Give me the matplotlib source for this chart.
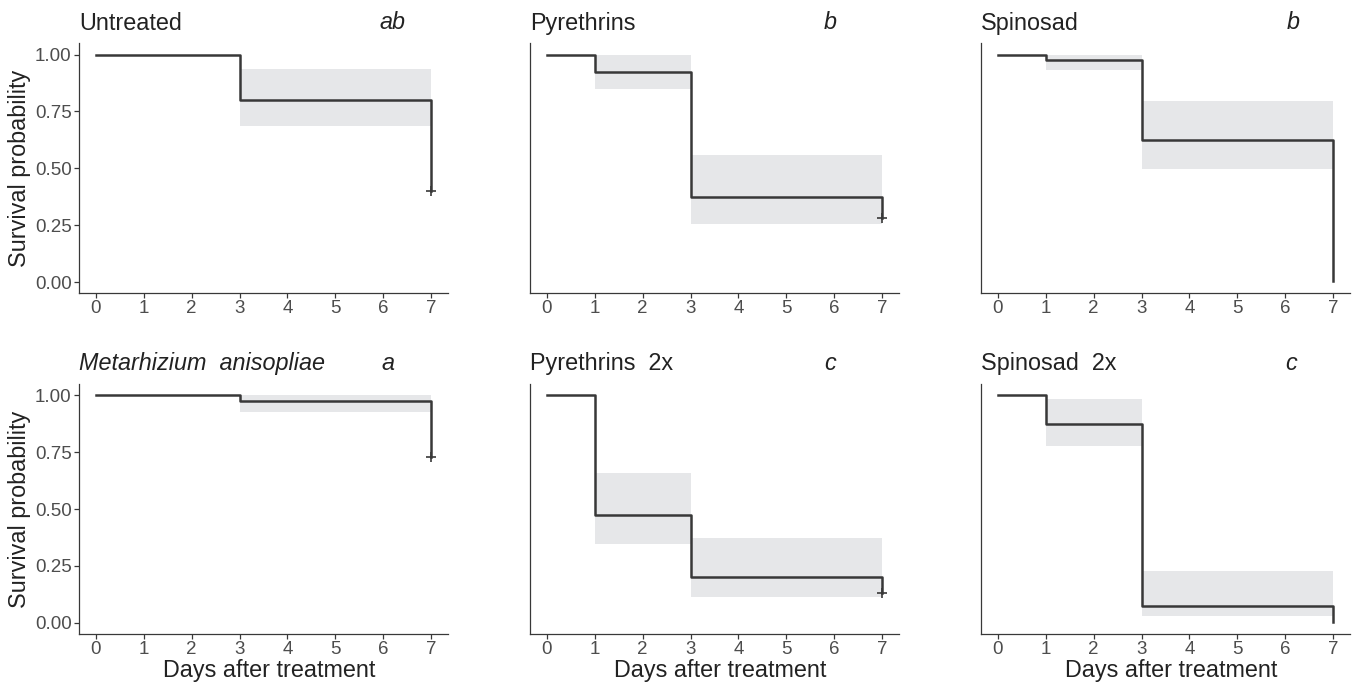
import matplotlib.pyplot as plt
import numpy as np

plt.rcParams['font.family'] = ['Liberation Sans', 'DejaVu Sans']

# survival curves (Kaplan-Meier steps)
titles = ['Untreated', 'Pyrethrins', 'Spinosad',
          'Metarhizium  anisopliae', 'Pyrethrins  2x', 'Spinosad  2x']
letters = ['ab', 'b', 'b', 'a', 'c', 'c']
italic_title = [False, False, False, True, False, False]

t_untr = [0, 3, 7]
s_untr = [1.00, 0.80, 0.40]
lo_untr = [1.00, 0.687, 0.40]
hi_untr = [1.00, 0.935, 0.40]

t_pyr = [0, 1, 3, 7]
s_pyr = [1.00, 0.925, 0.375, 0.28]
lo_pyr = [1.00, 0.849, 0.254, 0.28]
hi_pyr = [1.00, 1.00, 0.559, 0.28]

t_spi = [0, 1, 3, 7]
s_spi = [1.00, 0.975, 0.625, 0.004]
lo_spi = [1.00, 0.930, 0.495, 0.004]
hi_spi = [1.00, 1.00, 0.797, 0.004]

t_met = [0, 3, 7]
s_met = [1.00, 0.975, 0.73]
lo_met = [1.00, 0.928, 0.73]
hi_met = [1.00, 1.00, 0.73]

t_pyr2 = [0, 1, 3, 7]
s_pyr2 = [1.00, 0.475, 0.20, 0.13]
lo_pyr2 = [1.00, 0.344, 0.111, 0.13]
hi_pyr2 = [1.00, 0.659, 0.373, 0.13]

t_spi2 = [0, 1, 3, 7]
s_spi2 = [1.00, 0.875, 0.075, 0.004]
lo_spi2 = [1.00, 0.779, 0.029, 0.004]
hi_spi2 = [1.00, 0.982, 0.227, 0.004]

times = [t_untr, t_pyr, t_spi, t_met, t_pyr2, t_spi2]
surv = [s_untr, s_pyr, s_spi, s_met, s_pyr2, s_spi2]
ci_lo = [lo_untr, lo_pyr, lo_spi, lo_met, lo_pyr2, lo_spi2]
ci_hi = [hi_untr, hi_pyr, hi_spi, hi_met, hi_pyr2, hi_spi2]
censored = [True, True, False, True, True, False]

# letter x position (axes fraction)
let_x = [0.851, 0.813, 0.846, 0.837, 0.815, 0.840]

W, H = 1354, 684
fig = plt.figure(figsize=(W / 100, H / 100), dpi=100)

lefts = [79.2, 530.2, 981.2]
bottoms = [293.4, 634.1]
aw, ah = 368.6, 250.2

line_c = '#383838'
band_c = '#e6e7e9'
txt_c = '#4d4d4d'

for i in range(6):
    r, c = divmod(i, 3)
    ax = fig.add_axes([lefts[c] / W, 1 - bottoms[r] / H, aw / W, ah / H])

    ax.fill_between(times[i], ci_lo[i], ci_hi[i], step='post',
                    color=band_c, lw=0)
    ax.step(times[i], surv[i], where='post', color=line_c, lw=1.8)
    if censored[i]:
        ax.plot(times[i][-1], surv[i][-1], marker='+', color=line_c,
                ms=7, mew=1.2)

    ax.set_xlim(-0.35, 7.35)
    ax.set_ylim(-0.05, 1.05)
    ax.set_xticks(range(8))
    for s in ['top', 'right']:
        ax.spines[s].set_visible(False)
    for s in ['left', 'bottom']:
        ax.spines[s].set_color(line_c)
        ax.spines[s].set_linewidth(0.9)
    ax.tick_params(axis='x', labelsize=13.5, colors=line_c, labelcolor=txt_c,
                   length=3.5, width=0.9, pad=1.5)

    if c == 0:
        ax.set_yticks([0, 0.25, 0.5, 0.75, 1.0])
        ax.set_yticklabels(['0.00', '0.25', '0.50', '0.75', '1.00'])
        ax.tick_params(axis='y', labelsize=13.5, colors=line_c, labelcolor=txt_c,
                       length=3.5, width=0.9, pad=2)
        ax.set_ylabel('Survival probability', fontsize=16.8, color='#222222',
                      labelpad=3)
    else:
        ax.set_yticks([])

    if r == 1:
        ax.set_xlabel('Days after treatment', fontsize=16.8, color='#222222',
                      labelpad=0)
        ax.xaxis.set_label_coords(0.515, -0.1)

    ax.annotate(titles[i], xy=(0, 1), xycoords='axes fraction',
                xytext=(0, 14.4), textcoords='offset points',
                ha='left', va='center', fontsize=16.8, color='#222222',
                style='italic' if italic_title[i] else 'normal')
    ax.annotate(letters[i], xy=(let_x[i], 1), xycoords='axes fraction',
                xytext=(0, 15), textcoords='offset points',
                ha='center', va='center', fontsize=16.8, color='#222222',
                style='italic')

fig.savefig('out.png', dpi=100)
